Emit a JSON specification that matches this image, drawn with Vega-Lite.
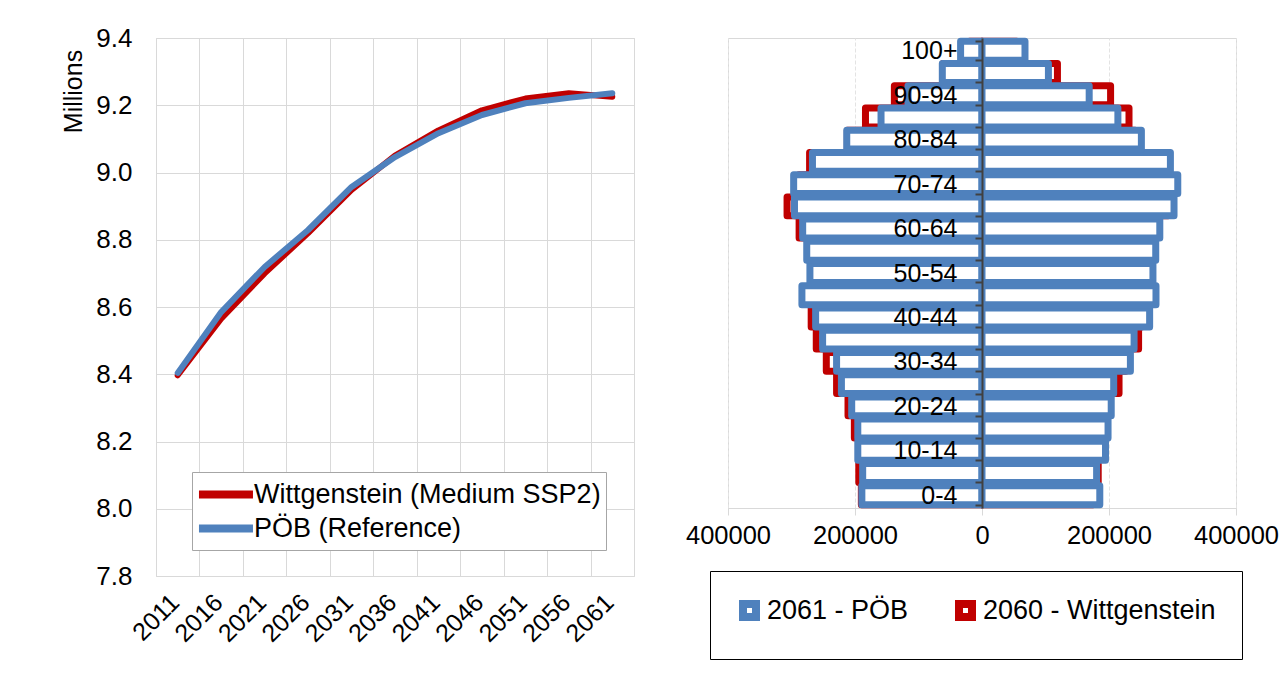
{
  "$schema": "https://vega.github.io/schema/vega-lite/v6.json",
  "background": "white",
  "padding": {"left": 60, "top": 24, "right": 0, "bottom": 0},
  "bounds": "flush",
  "spacing": 94,
  "config": {
    "font": "Liberation Sans",
    "view": {"stroke": "#d9d9d9"},
    "axis": {"labelColor": "black", "labelFont": "Liberation Sans", "titleFont": "Liberation Sans", "titleColor": "black", "gridColor": "#d9d9d9"},
    "legend": {"labelFont": "Liberation Sans", "labelColor": "black"}
  },
  "hconcat": [
    {
      "width": 478,
      "height": 538,
      "data": {"values": [
        {"year": 2011, "series": "Wittgenstein (Medium SSP2)", "value": 8.397},
        {"year": 2016, "series": "Wittgenstein (Medium SSP2)", "value": 8.565},
        {"year": 2021, "series": "Wittgenstein (Medium SSP2)", "value": 8.700},
        {"year": 2026, "series": "Wittgenstein (Medium SSP2)", "value": 8.820},
        {"year": 2031, "series": "Wittgenstein (Medium SSP2)", "value": 8.948},
        {"year": 2036, "series": "Wittgenstein (Medium SSP2)", "value": 9.050},
        {"year": 2041, "series": "Wittgenstein (Medium SSP2)", "value": 9.125},
        {"year": 2046, "series": "Wittgenstein (Medium SSP2)", "value": 9.185},
        {"year": 2051, "series": "Wittgenstein (Medium SSP2)", "value": 9.220},
        {"year": 2056, "series": "Wittgenstein (Medium SSP2)", "value": 9.236},
        {"year": 2061, "series": "Wittgenstein (Medium SSP2)", "value": 9.225},
        {"year": 2011, "series": "PÖB (Reference)", "value": 8.404},
        {"year": 2016, "series": "PÖB (Reference)", "value": 8.585},
        {"year": 2021, "series": "PÖB (Reference)", "value": 8.719},
        {"year": 2026, "series": "PÖB (Reference)", "value": 8.829},
        {"year": 2031, "series": "PÖB (Reference)", "value": 8.957},
        {"year": 2036, "series": "PÖB (Reference)", "value": 9.046},
        {"year": 2041, "series": "PÖB (Reference)", "value": 9.117},
        {"year": 2046, "series": "PÖB (Reference)", "value": 9.171},
        {"year": 2051, "series": "PÖB (Reference)", "value": 9.206},
        {"year": 2056, "series": "PÖB (Reference)", "value": 9.222},
        {"year": 2061, "series": "PÖB (Reference)", "value": 9.236}
      ]},
      "mark": {"type": "line", "strokeWidth": 6, "strokeCap": "round", "strokeJoin": "round"},
      "encoding": {
        "x": {
          "field": "year", "type": "ordinal",
          "scale": {"type": "band", "paddingInner": 0, "paddingOuter": 0},
          "axis": {"title": null, "tickBand": "extent", "grid": true, "ticks": false, "domain": false, "labelAngle": -45, "labelAlign": "right", "labelBaseline": "middle", "labelFontSize": 25, "labelPadding": 22, "labelOffset": -3}
        },
        "y": {
          "field": "value", "type": "quantitative",
          "scale": {"domain": [7.8, 9.4], "nice": false, "zero": false},
          "axis": {"title": "Millions", "values": [7.8, 8.0, 8.2, 8.4, 8.6, 8.8, 9.0, 9.2, 9.4], "format": ".1f", "labelFontSize": 26, "ticks": false, "domain": false, "labelPadding": 24, "titleFontSize": 25, "titleFontWeight": "normal", "titleX": -83, "titleY": 53, "titleAlign": "center", "titleBaseline": "middle", "titleAngle": -90}
        },
        "color": {
          "field": "series", "type": "nominal",
          "scale": {"domain": ["Wittgenstein (Medium SSP2)", "PÖB (Reference)"], "range": ["#C00000", "#4F81BD"]},
          "legend": {"title": null, "orient": "none", "legendX": 36, "legendY": 434, "direction": "vertical", "symbolType": "M-1.15,0H2.85", "symbolSize": 729, "symbolStrokeWidth": 8, "labelFontSize": 27, "labelOffset": 22, "padding": 5, "rowPadding": 0, "strokeColor": "#a6a6a6", "fillColor": "white", "labelLimit": 500}
        }
      }
    },
    {
      "width": 508,
      "height": 470,
      "data": {"values": [
        {"age": "0-4", "series": "2060 - Wittgenstein", "value": -190000},
        {"age": "0-4", "series": "2060 - Wittgenstein", "value": 174800},
        {"age": "5-9", "series": "2060 - Wittgenstein", "value": -194000},
        {"age": "5-9", "series": "2060 - Wittgenstein", "value": 183000},
        {"age": "10-14", "series": "2060 - Wittgenstein", "value": -192500},
        {"age": "10-14", "series": "2060 - Wittgenstein", "value": 182700},
        {"age": "15-19", "series": "2060 - Wittgenstein", "value": -201000},
        {"age": "15-19", "series": "2060 - Wittgenstein", "value": 185500},
        {"age": "20-24", "series": "2060 - Wittgenstein", "value": -211000},
        {"age": "20-24", "series": "2060 - Wittgenstein", "value": 193700},
        {"age": "25-29", "series": "2060 - Wittgenstein", "value": -229000},
        {"age": "25-29", "series": "2060 - Wittgenstein", "value": 215800},
        {"age": "30-34", "series": "2060 - Wittgenstein", "value": -245200},
        {"age": "30-34", "series": "2060 - Wittgenstein", "value": 226000},
        {"age": "35-39", "series": "2060 - Wittgenstein", "value": -261000},
        {"age": "35-39", "series": "2060 - Wittgenstein", "value": 246600},
        {"age": "40-44", "series": "2060 - Wittgenstein", "value": -269000},
        {"age": "40-44", "series": "2060 - Wittgenstein", "value": 251000},
        {"age": "45-49", "series": "2060 - Wittgenstein", "value": -268000},
        {"age": "45-49", "series": "2060 - Wittgenstein", "value": 252000},
        {"age": "50-54", "series": "2060 - Wittgenstein", "value": -265000},
        {"age": "50-54", "series": "2060 - Wittgenstein", "value": 254400},
        {"age": "55-59", "series": "2060 - Wittgenstein", "value": -269600},
        {"age": "55-59", "series": "2060 - Wittgenstein", "value": 261500},
        {"age": "60-64", "series": "2060 - Wittgenstein", "value": -288000},
        {"age": "60-64", "series": "2060 - Wittgenstein", "value": 269200},
        {"age": "65-69", "series": "2060 - Wittgenstein", "value": -307000},
        {"age": "65-69", "series": "2060 - Wittgenstein", "value": 293000},
        {"age": "70-74", "series": "2060 - Wittgenstein", "value": -288000},
        {"age": "70-74", "series": "2060 - Wittgenstein", "value": 293600},
        {"age": "75-79", "series": "2060 - Wittgenstein", "value": -271500},
        {"age": "75-79", "series": "2060 - Wittgenstein", "value": 286000},
        {"age": "80-84", "series": "2060 - Wittgenstein", "value": -212000},
        {"age": "80-84", "series": "2060 - Wittgenstein", "value": 241000},
        {"age": "85-89", "series": "2060 - Wittgenstein", "value": -183500},
        {"age": "85-89", "series": "2060 - Wittgenstein", "value": 231500},
        {"age": "90-94", "series": "2060 - Wittgenstein", "value": -138000},
        {"age": "90-94", "series": "2060 - Wittgenstein", "value": 202500},
        {"age": "95-99", "series": "2060 - Wittgenstein", "value": -61500},
        {"age": "95-99", "series": "2060 - Wittgenstein", "value": 118800},
        {"age": "100+", "series": "2060 - Wittgenstein", "value": -19500},
        {"age": "100+", "series": "2060 - Wittgenstein", "value": 54500},
        {"age": "0-4", "series": "2061 - PÖB", "value": -189200},
        {"age": "0-4", "series": "2061 - PÖB", "value": 185500},
        {"age": "5-9", "series": "2061 - PÖB", "value": -187900},
        {"age": "5-9", "series": "2061 - PÖB", "value": 180500},
        {"age": "10-14", "series": "2061 - PÖB", "value": -195600},
        {"age": "10-14", "series": "2061 - PÖB", "value": 194500},
        {"age": "15-19", "series": "2061 - PÖB", "value": -195600},
        {"age": "15-19", "series": "2061 - PÖB", "value": 198500},
        {"age": "20-24", "series": "2061 - PÖB", "value": -205200},
        {"age": "20-24", "series": "2061 - PÖB", "value": 203500},
        {"age": "25-29", "series": "2061 - PÖB", "value": -221400},
        {"age": "25-29", "series": "2061 - PÖB", "value": 207400},
        {"age": "30-34", "series": "2061 - PÖB", "value": -229000},
        {"age": "30-34", "series": "2061 - PÖB", "value": 233700},
        {"age": "35-39", "series": "2061 - PÖB", "value": -251000},
        {"age": "35-39", "series": "2061 - PÖB", "value": 239500},
        {"age": "40-44", "series": "2061 - PÖB", "value": -262000},
        {"age": "40-44", "series": "2061 - PÖB", "value": 264000},
        {"age": "45-49", "series": "2061 - PÖB", "value": -283600},
        {"age": "45-49", "series": "2061 - PÖB", "value": 274000},
        {"age": "50-54", "series": "2061 - PÖB", "value": -271000},
        {"age": "50-54", "series": "2061 - PÖB", "value": 269200},
        {"age": "55-59", "series": "2061 - PÖB", "value": -276000},
        {"age": "55-59", "series": "2061 - PÖB", "value": 273600},
        {"age": "60-64", "series": "2061 - PÖB", "value": -282400},
        {"age": "60-64", "series": "2061 - PÖB", "value": 280000},
        {"age": "65-69", "series": "2061 - PÖB", "value": -295300},
        {"age": "65-69", "series": "2061 - PÖB", "value": 302400},
        {"age": "70-74", "series": "2061 - PÖB", "value": -296600},
        {"age": "70-74", "series": "2061 - PÖB", "value": 308300},
        {"age": "75-79", "series": "2061 - PÖB", "value": -267000},
        {"age": "75-79", "series": "2061 - PÖB", "value": 296700},
        {"age": "80-84", "series": "2061 - PÖB", "value": -213000},
        {"age": "80-84", "series": "2061 - PÖB", "value": 251000},
        {"age": "85-89", "series": "2061 - PÖB", "value": -159000},
        {"age": "85-89", "series": "2061 - PÖB", "value": 214000},
        {"age": "90-94", "series": "2061 - PÖB", "value": -116500},
        {"age": "90-94", "series": "2061 - PÖB", "value": 168800},
        {"age": "95-99", "series": "2061 - PÖB", "value": -62500},
        {"age": "95-99", "series": "2061 - PÖB", "value": 104600},
        {"age": "100+", "series": "2061 - PÖB", "value": -33700},
        {"age": "100+", "series": "2061 - PÖB", "value": 67700}
      ]},
      "mark": {"type": "bar", "fill": "white", "strokeWidth": 7, "strokeJoin": "round"},
      "encoding": {
        "y": {
          "field": "age", "type": "ordinal",
          "sort": ["100+", "95-99", "90-94", "85-89", "80-84", "75-79", "70-74", "65-69", "60-64", "55-59", "50-54", "45-49", "40-44", "35-39", "30-34", "25-29", "20-24", "15-19", "10-14", "5-9", "0-4"],
          "scale": {"paddingInner": 0.15, "paddingOuter": 0.15},
          "axis": {"title": null, "offset": -254, "zindex": 1, "tickBand": "extent", "domainColor": "#404040", "domainWidth": 2, "tickColor": "#404040", "tickSize": 7, "tickWidth": 2, "labelFontSize": 25, "labelPadding": 18, "grid": false,
            "labelExpr": "indexof(['100+','90-94','80-84','70-74','60-64','50-54','40-44','30-34','20-24','10-14','0-4'], datum.value) >= 0 ? datum.value : ''"}
        },
        "x": {
          "field": "value", "type": "quantitative", "stack": null,
          "scale": {"domain": [-400000, 400000], "nice": false},
          "axis": {"title": null, "values": [-400000, -200000, 0, 200000, 400000], "labelExpr": "format(abs(datum.value), 'd')", "labelOverlap": false, "labelFlush": false, "labelFontSize": 25.5, "gridColor": "#e3e3e3", "gridDash": [4, 2], "domainColor": "#d9d9d9", "tickColor": "#d9d9d9", "tickSize": 7, "labelPadding": 8}
        },
        "stroke": {
          "field": "series", "type": "nominal",
          "scale": {"domain": ["2061 - PÖB", "2060 - Wittgenstein"], "range": ["#4F81BD", "#C00000"]},
          "legend": {"title": null, "orient": "none", "legendX": 554, "legendY": 533, "direction": "horizontal", "symbolType": "square", "symbolSize": 169, "symbolStrokeWidth": 8, "symbolFillColor": "white", "labelFontSize": 27, "labelOffset": 4, "columnPadding": 34, "padding": 26, "strokeColor": "black", "labelLimit": 400}
        }
      }
    }
  ]
}
